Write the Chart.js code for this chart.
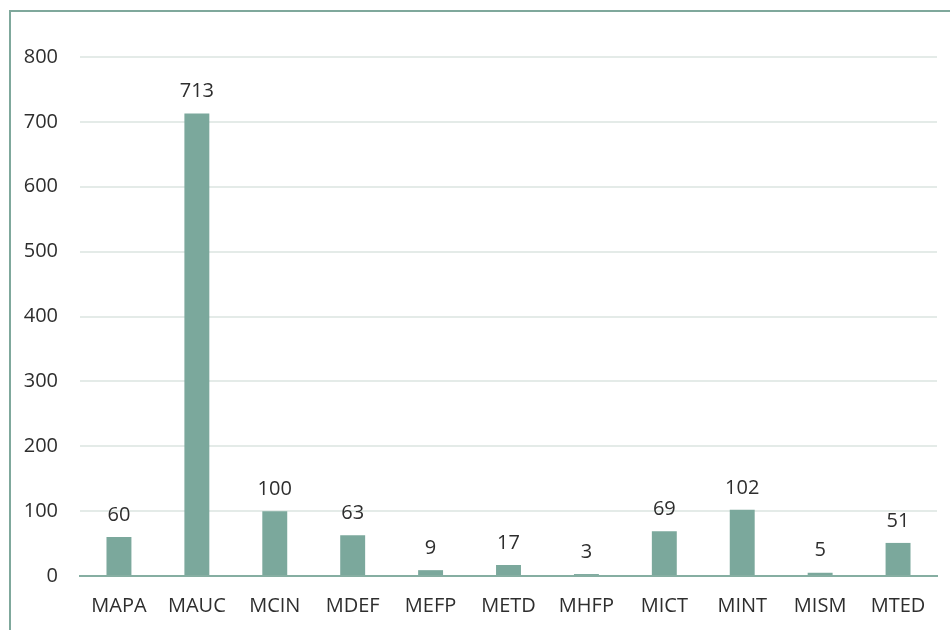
<!DOCTYPE html>
<html><head><meta charset="utf-8">
<script src="https://cdn.jsdelivr.net/npm/chart.js@4/dist/chart.umd.min.js"></script>
<style>
html,body{margin:0;padding:0;background:#fff;}
#wrap{position:absolute;left:0;top:0;width:950px;height:630px;}
#frame{position:absolute;left:9px;top:10px;width:960px;height:640px;border-top:2px solid #7fa89c;border-left:2px solid #7fa89c;box-sizing:border-box;pointer-events:none;}
canvas{position:absolute;left:0;top:0;}
</style></head>
<body>
<div id="wrap"><canvas id="c" width="950" height="630"></canvas><div id="frame"></div></div>
<script>
const categories = ["MAPA","MAUC","MCIN","MDEF","MEFP","METD","MHFP","MICT","MINT","MISM","MTED"];
const values = [60,713,100,63,9,17,3,69,102,5,51];
const yTicks = [0,100,200,300,400,500,600,700,800];

const FONT = "'Open Sans', 'Liberation Sans', sans-serif";
const labelPlugin = {
  id:'barLabels',
  afterDatasetsDraw(chart){
    const ctx = chart.ctx;
    const meta = chart.getDatasetMeta(0);
    ctx.save();
    ctx.font = "20px " + FONT;
    ctx.fillStyle = "#2e2e2e";
    ctx.textAlign = "center";
    ctx.textBaseline = "bottom";
    meta.data.forEach((bar,i)=>{
      ctx.fillText(String(values[i]), bar.x, bar.y - 12);
    });
    ctx.restore();
  }
};

new Chart(document.getElementById('c'), {
  type:'bar',
  data:{labels:categories,datasets:[{data:values,backgroundColor:'#7ba89c',barPercentage:0.64,categoryPercentage:0.5}]},
  options:{
    responsive:false,animation:false,
    layout:{padding:{top:57,right:13,left:0,bottom:0}},
    plugins:{legend:{display:false},tooltip:{enabled:false}},
    scales:{
      x:{
        grid:{display:false},
        border:{display:true,color:'#86aea2',width:2},
        ticks:{font:{family:FONT,size:20},color:'#2e2e2e',padding:10},
        afterFit(s){s.height=54;}
      },
      y:{
        min:0,max:800,
        afterBuildTicks(s){s.ticks=yTicks.map(v=>({value:v}));},
        grid:{color:'#e4ebe8',lineWidth:2,drawTicks:false},
        border:{display:false},
        ticks:{font:{family:FONT,size:20},color:'#2e2e2e',padding:22},
        afterFit(s){s.width=80;}
      }
    }
  },
  plugins:[labelPlugin]
});
</script>
</body></html>
